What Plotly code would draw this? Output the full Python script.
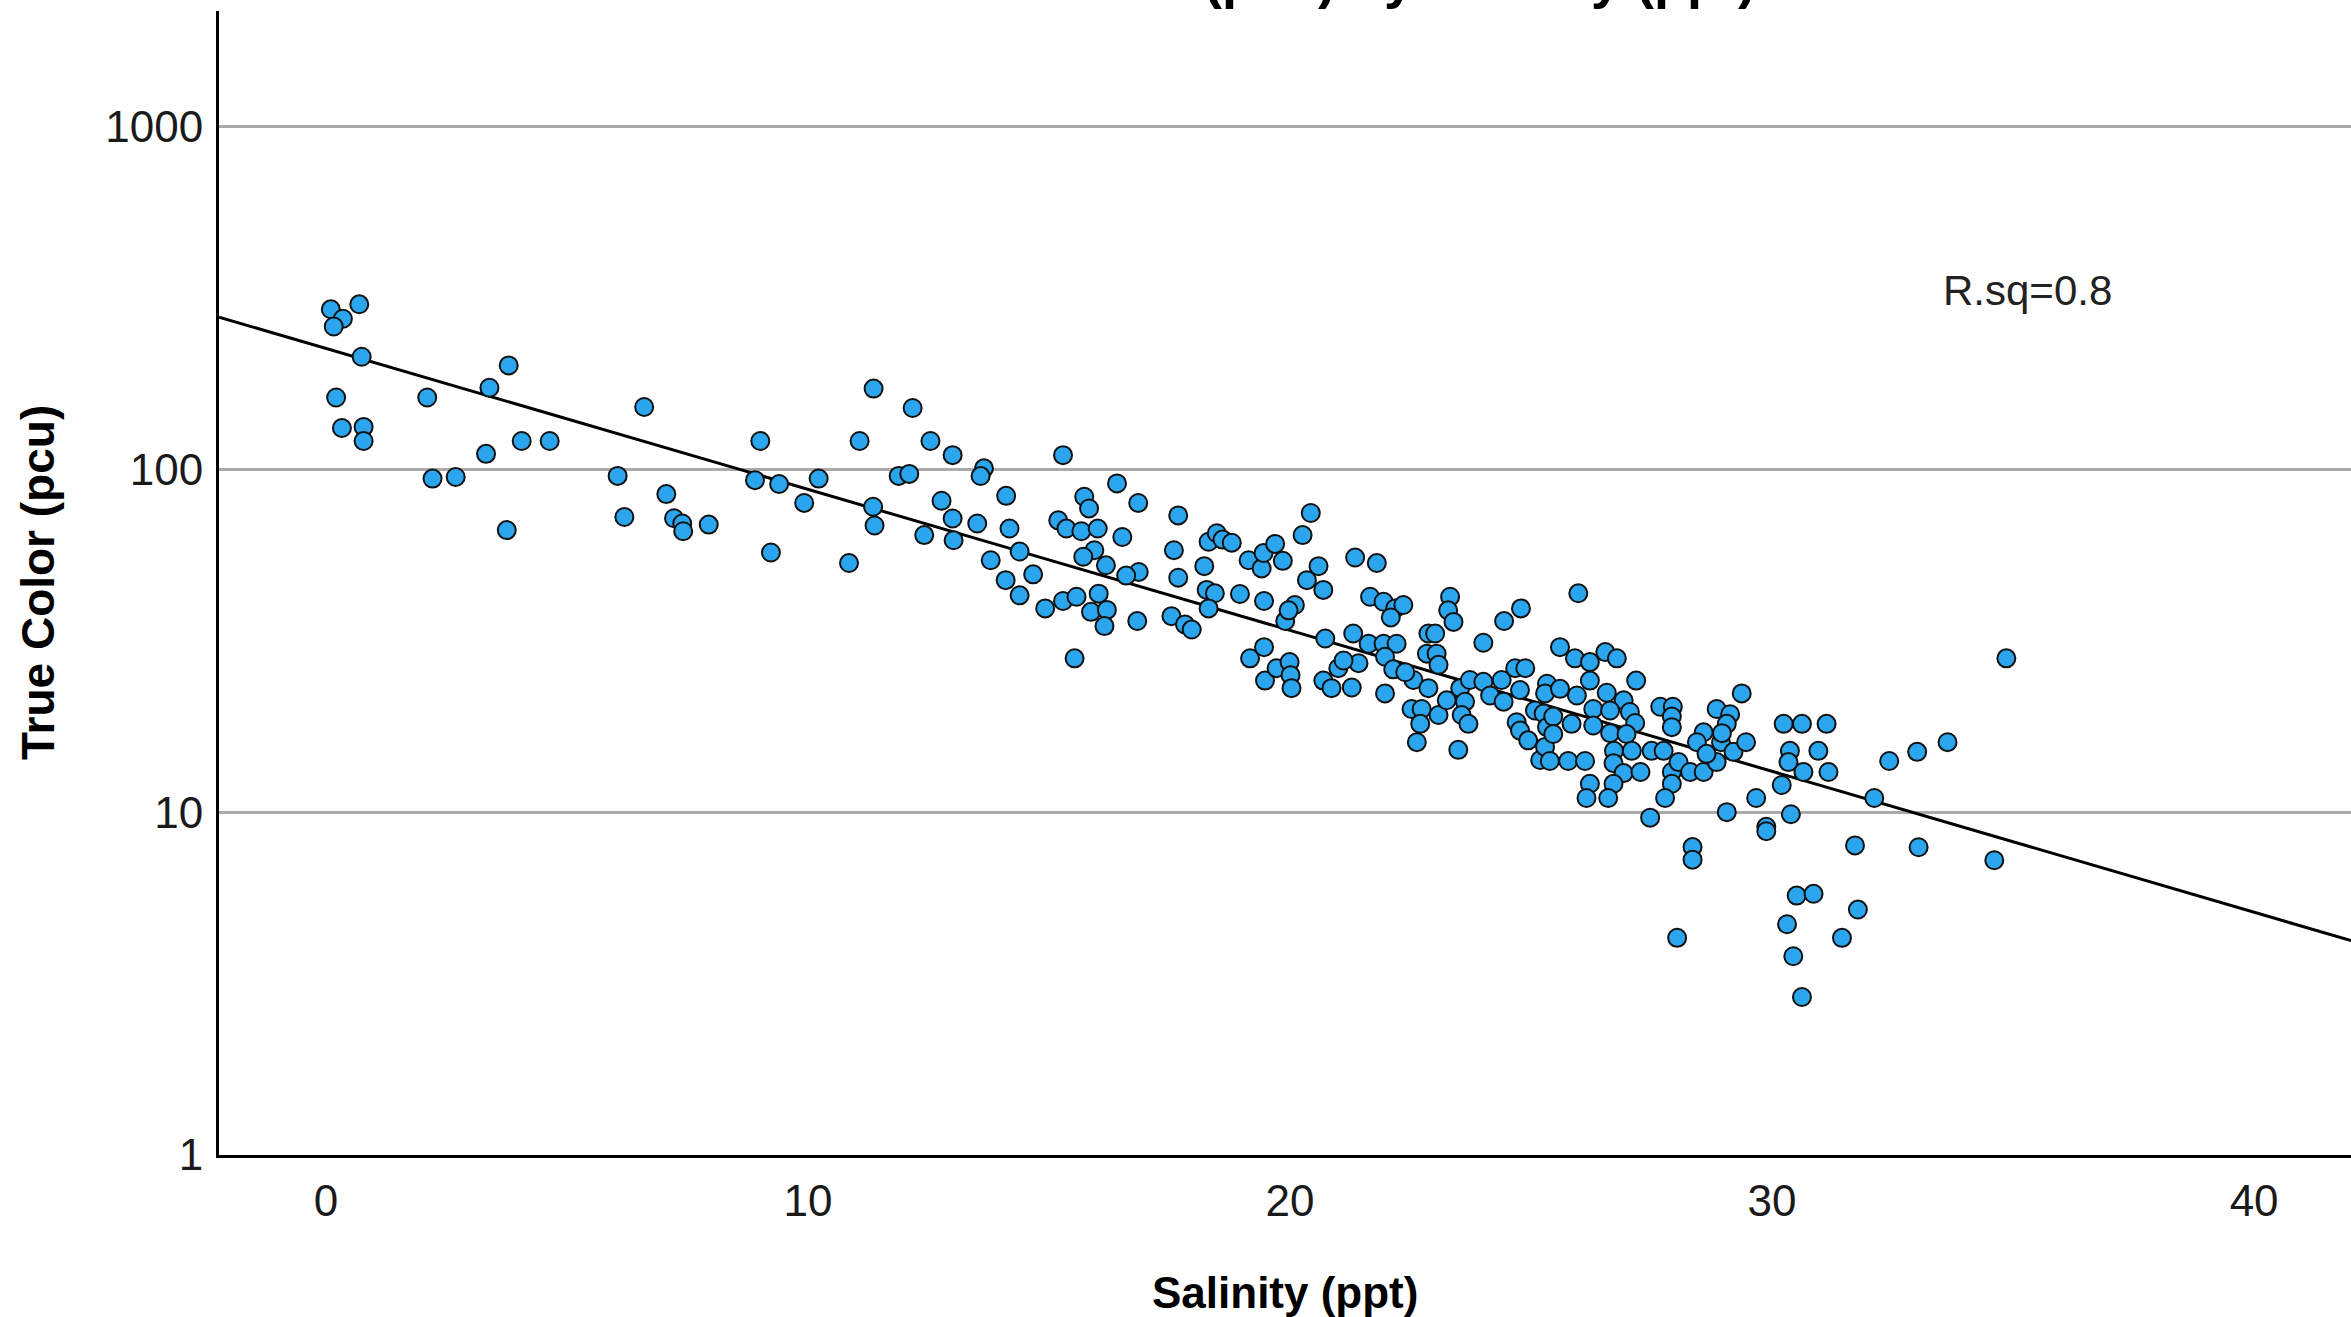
import numpy as np
import plotly.graph_objects as go

# ---------------- data ----------------
salinity_low = [0.10, 0.69, 0.35, 0.16, 0.74, 0.21, 0.33, 0.78, 0.78, 2.10, 3.39, 3.79, 2.21, 2.69, 3.32,
                4.06, 4.64, 3.75, 6.60, 6.05, 6.19, 7.06, 7.22, 7.39, 7.41, 7.94, 9.01, 8.90, 9.40, 10.22,
                9.92, 9.23, 11.36, 11.07, 11.35, 11.38, 10.85, 11.88]
color_low = [293, 303, 275, 261, 213, 162, 132, 133, 121, 162, 173, 201, 94, 95, 111,
             121, 121, 66.5, 152, 95.7, 72.6, 84.7, 72, 69.5, 66, 69, 121, 93, 90.6, 94,
             79.8, 57.2, 172, 121, 77.8, 68.6, 53.3, 95.7]

salinity_mid = [12.17, 12.54, 13.00, 12.10, 13.65, 13.58, 15.29, 16.41, 16.85, 15.73, 15.83, 14.11, 12.77,
                13.00, 13.02, 13.51, 14.18, 12.41, 15.19, 15.36, 15.67, 16.01, 16.52, 15.94, 15.71, 16.18,
                14.39, 13.79, 14.67, 14.10, 14.39, 14.92, 15.29, 15.57, 16.03, 15.87, 16.20, 16.15, 16.83,
                15.53, 16.86, 16.60]
color_mid = [151, 121, 110, 97, 100.7, 95.6, 110, 91, 79.8, 83.2, 76.9, 83.7, 81,
             71.9, 62.1, 69.5, 67.2, 64.3, 71, 67.2, 66, 67.2, 63.5, 58.1, 55.6, 52.5,
             57.6, 54.3, 49.4, 47.5, 42.9, 39.3, 41.3, 42.5, 43.4, 38.4, 38.9, 34.9, 36.1,
             28.1, 50.2, 49]

salinity_dense = [17.68, 17.59, 17.68, 17.54, 17.82, 17.96, 18.22, 18.31, 18.48, 18.60, 18.79, 18.27, 18.44,
                  18.31, 18.96, 19.14, 19.41, 19.45, 19.69, 19.85, 19.46, 20.10, 19.90, 20.43, 20.26, 20.59,
                  20.35, 20.69, 21.35, 21.80, 21.66, 21.94, 22.18, 22.35, 22.09, 23.32, 23.28, 23.39, 24.01,
                  24.44, 24.79, 19.17, 19.46, 19.48, 19.72, 19.99, 20.01, 20.03, 20.73, 20.69, 20.86, 21.00,
                  21.31, 21.28, 21.42, 21.63, 21.94, 22.21, 21.97, 22.14, 21.97, 22.56, 22.87, 23.01, 22.84,
                  23.04, 23.08, 22.87, 22.52, 22.73, 22.70, 22.63, 23.08, 23.25, 23.49, 23.53, 23.63, 23.56,
                  23.70, 23.73, 24.01, 24.15, 24.39, 24.43, 24.67, 24.88, 24.70, 24.77, 24.94, 25.19, 25.33,
                  25.29, 25.08, 25.26, 25.33, 25.29, 24.77, 21.11, 22.39, 19.97]
color_dense = [73.4, 58.1, 48.3, 37.3, 35.3, 34.1, 52.2, 61.5, 65.1, 62.4, 61.1, 44.5, 43.5,
               39.3, 43.3, 54.3, 51.4, 57.0, 60.6, 54.1, 41.3, 40.2, 36.1, 74.6, 64.3, 52.2,
               47.5, 44.5, 55.3, 53.3, 42.5, 41.1, 39.3, 40.2, 37.0, 42.5, 38.8, 35.9, 31.2,
               36.1, 39.3, 28.1, 30.3, 24.2, 26.3, 27.4, 25.1, 23.0, 32.1, 24.2, 23.0, 26.3,
               33.2, 23.1, 27.2, 31.0, 31.0, 31.0, 28.4, 26.1, 22.2, 24.3, 33.2, 33.2, 29.0,
               29.0, 26.9, 23.0, 20.0, 20.0, 18.1, 16.0, 19.2, 21.2, 15.2, 23.0, 21.0, 19.2,
               18.1, 24.3, 24.0, 21.9, 24.3, 21.0, 26.3, 26.3, 18.3, 17.3, 16.2, 14.2, 23.7,
               22.2, 19.8, 19.4, 17.7, 15.5, 22.7, 27.7, 25.6, 38.8]

salinity_high = [25.98, 25.60, 25.91, 26.22, 26.54, 26.78, 27.18, 26.22, 25.95, 26.57, 26.92, 26.29, 26.64,
                 25.84, 25.46, 25.46, 26.29, 26.64, 27.05, 27.16, 26.98, 27.68, 27.94, 27.92, 27.92, 26.72,
                 27.09, 27.50, 27.75, 25.77, 26.12, 25.39, 26.71, 26.92, 27.27, 26.22, 26.71, 26.15, 26.60,
                 27.47, 27.92, 28.06, 27.92, 27.78, 28.30, 28.58, 28.58, 28.44, 28.85, 29.13, 29.06, 29.37,
                 28.94, 29.20, 29.46, 28.85, 28.64, 30.24, 30.62, 31.13, 30.37, 30.34, 30.96, 30.65, 31.17,
                 30.20, 29.67, 29.06, 30.39, 29.88, 29.88, 28.35, 28.35, 31.72, 32.43, 32.12, 30.51, 30.86,
                 25.60, 28.96, 34.86, 33.04, 33.01, 33.64, 34.61, 31.78, 30.31, 31.45, 30.44, 30.62, 28.03]
color_high = [43.5, 30.3, 28.1, 27.4, 29.3, 28.1, 24.2, 24.2, 21.9, 22.3, 21.2, 20.0, 19.8,
              18.1, 19.0, 16.9, 17.9, 17.0, 19.6, 18.2, 16.9, 20.3, 20.3, 19.0, 17.7, 15.1,
              15.1, 15.1, 15.1, 14.1, 14.1, 14.1, 13.9, 13.0, 13.1, 12.1, 12.1, 11.0, 11.0,
              9.64, 13.1, 14.0, 12.1, 11.0, 13.1, 13.1, 17.1, 16.0, 20.0, 19.3, 18.1, 22.2,
              16.0, 15.0, 16.0, 14.0, 14.8, 18.1, 18.1, 18.1, 15.1, 14.0, 15.1, 13.1, 13.1,
              12.0, 11.0, 10.0, 9.86, 9.06, 8.8, 7.91, 7.27, 8.0, 14.1, 11.0, 5.71, 5.78,
              22.9, 17.0, 28.1, 7.9, 15.0, 16.0, 7.24, 5.2, 4.71, 4.3, 3.8, 2.89, 4.3]

x_ticks = [0, 10, 20, 30, 40]
y_ticks = [1, 10, 100, 1000]
y_tick_text = ["1", "10", "100", "1000"]
rsq_label = "R.sq=0.8"
title_text = "True Color (pcu) by Salinity (ppt)"
x_title = "Salinity (ppt)"
y_title = "True Color (pcu)"

# ---------------- assemble ----------------
salinity = np.array(salinity_low + salinity_mid + salinity_dense + salinity_high)
true_color = np.array(color_low + color_mid + color_dense + color_high)

x_range = [-2.22, 42.01]
y_range_log = [0, 3.337]

# exponential fit (linear in log10 space), like the SPSS fit line
slope, intercept = np.polyfit(salinity, np.log10(true_color), 1)
fit_x = np.array(x_range)
fit_y = 10 ** (intercept + slope * fit_x)

FONT = "Liberation Sans, Arial, sans-serif"

fig = go.Figure()
fig.add_trace(go.Scatter(
    x=fit_x, y=fit_y, mode="lines",
    line=dict(color="black", width=3), hoverinfo="skip", showlegend=False))
fig.add_trace(go.Scatter(
    x=salinity, y=true_color, mode="markers",
    marker=dict(size=18, color="#2BA6EE", line=dict(color="#111111", width=2)),
    showlegend=False))

W, H = 2351, 1317
ml, mr, mt, mb = 219, 0, 11, 162
pw, ph = W - ml - mr, H - mt - mb

fig.update_layout(
    width=W, height=H,
    margin=dict(l=ml, r=mr, t=mt, b=mb, pad=0),
    paper_bgcolor="white", plot_bgcolor="white",
    font=dict(family=FONT, color="#1a1a1a"),
    xaxis=dict(range=x_range, tickvals=x_ticks, showgrid=False, zeroline=False,
               showline=True, linecolor="black", linewidth=3, ticks="",
               tickfont=dict(size=44, family=FONT, color="#1a1a1a"),
               ticklabelstandoff=5),
    yaxis=dict(type="log", range=y_range_log, tickvals=y_ticks, ticktext=y_tick_text,
               showgrid=True, gridcolor="#aaaaaa", gridwidth=2.5, zeroline=False,
               showline=True, linecolor="black", linewidth=3, ticks="",
               tickfont=dict(size=44, family=FONT, color="#1a1a1a"),
               ticklabelstandoff=4),
    annotations=[
        dict(text="<b>" + title_text + "</b>", xref="paper", yref="paper",
             x=(1758 - ml) / pw, y=(H - mb - 11) / ph, xanchor="right", yanchor="bottom",
             showarrow=False, font=dict(size=54, family=FONT, color="black")),
        dict(text="<b>" + x_title + "</b>", xref="paper", yref="paper",
             x=0.5, y=(H - mb - 1292) / ph, xanchor="center", yanchor="middle",
             showarrow=False, font=dict(size=44, family=FONT, color="black")),
        dict(text="<b>" + y_title + "</b>", xref="paper", yref="paper",
             x=(38 - ml) / pw, y=0.5, xanchor="center", yanchor="middle", textangle=-90,
             showarrow=False, font=dict(size=46, family=FONT, color="black")),
        dict(text=rsq_label, xref="x", yref="y", x=35.3, y=np.log10(333),
             xanchor="center", yanchor="middle", showarrow=False,
             font=dict(size=42, family=FONT, color="#222222")),
    ],
)

fig.write_html("out.html",
               config={"displayModeBar": False},
               post_script="document.body.style.margin='0';document.body.style.overflow='hidden';")
